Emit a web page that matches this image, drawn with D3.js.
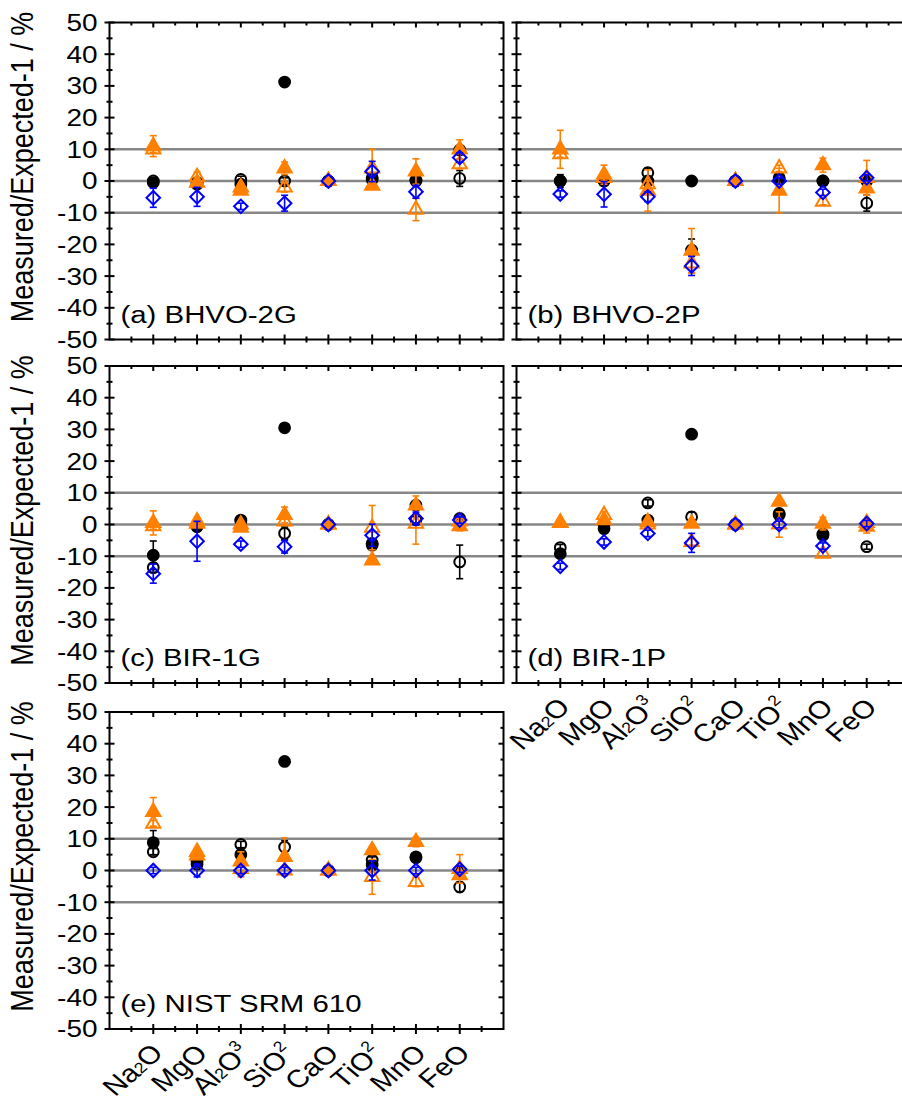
<!DOCTYPE html>
<html>
<head>
<meta charset="utf-8">
<script src="https://cdn.jsdelivr.net/npm/d3@7"></script>
<style>
  html, body { margin: 0; padding: 0; background: #fff; }
  svg { display: block; font-family: Arial, "Liberation Sans", sans-serif; }
</style>
</head>
<body>
<div id="chart"></div>
<script>
// Oxide categories along the x axis
const categories = ["Na2O", "MgO", "Al2O3", "SiO2", "CaO", "TiO2", "MnO", "FeO"];
const yTicks = [50, 40, 30, 20, 10, 0, -10, -20, -30, -40, -50];
const refLines = [10, 0, -10];
const panelNames = ["(a) BHVO-2G", "(b) BHVO-2P", "(c) BIR-1G", "(d) BIR-1P", "(e) NIST SRM 610"];

// Series order in each table: filled circle, open circle, filled triangle, open triangle, open diamond
const bhvo2gValues = [
  [-0.5, -1, -1, 31.2, 0, 0.5, 0.3, 9.8],
  [0, -0.5, 0.5, 0, 0, 1, 0, 0.8],
  [11, -0.5, -3, 4, 0, -1.5, 3, 10],
  [10, 1.3, -2, -2, 0, 4, -9, 5.3],
  [-5.3, -5, -8, -7, 0, 3, -3.4, 7.4]
];
const bhvo2gErrors = [
  [1, 1, 1, 0.5, 0, 1, 1, 1],
  [1, 1, 1, 1, 0, 1, 1, 2.5],
  [3.3, 1, 1, 2, 0.5, 1, 4, 3],
  [1, 1.5, 1, 1.5, 0, 6, 3.5, 1.5],
  [3, 3, 1, 2.5, 0, 3.2, 2, 1.5]
];

const bhvo2pValues = [
  [0, 0, 0, 0, 0, 0.5, 0, 0],
  [0, 0, 2.6, -21.8, 0, 1, 0, -7],
  [10, 2, -3, -22, 0, -3, 5, -2.3],
  [8.5, 1, -1, -26, 0, 4, -6.5, 1],
  [-4.1, -4.2, -5, -26.8, 0, 0, -3.6, 1]
];
const bhvo2pErrors = [
  [2, 1, 1, 0.5, 0, 1, 1, 1],
  [1, 1, 1.5, 3.5, 0, 1, 1, 2.5],
  [6, 3, 6.5, 7, 0.5, 7, 2.2, 1],
  [1, 1, 1, 3, 0, 1, 1, 5.5],
  [1, 4, 1.5, 3, 0, 1, 1, 1]
];

const bir1gValues = [
  [-9.7, -0.7, 1.4, 30.5, 0, -6.5, 6.1, 1.9],
  [-13.6, -0.5, 1, -2.8, 0, -6, 1.5, -11.8],
  [0.5, 0.3, -1, 3, 0, -11.3, 6, -0.5],
  [-0.5, 1, 0, 1, 0, -1, 0.3, 1],
  [-15.5, -5.3, -6.2, -7, 0, -3.4, 1.9, 1.4]
];
const bir1gErrors = [
  [4.5, 1, 1, 0.5, 0, 1, 1, 1],
  [1.5, 1, 1, 2, 0, 1, 1, 5.3],
  [3.8, 1, 1, 2.5, 0, 1, 3, 1.5],
  [1, 1, 1, 1, 0, 7, 6.5, 1],
  [3, 6.3, 1, 2, 0, 3.5, 2, 1]
];

const bir1pValues = [
  [-9.2, -1.3, 1.4, 28.5, 0, 3.5, -3.4, 0],
  [-7.3, 0, 6.8, 2.4, 0, 3, -3, -7],
  [0.6, 1.4, 0.8, 0.3, 0, 7.2, 0.3, -0.7],
  [0.5, 3, 0, -5.5, 0, 0, -9.2, 0.5],
  [-13.2, -5.5, -2.8, -5.8, 0, 0, -6.8, 0.3]
];
const bir1pErrors = [
  [1, 1, 1, 0.5, 0, 1, 1, 1],
  [1, 1, 1, 1.5, 0, 1, 1, 0.8],
  [1, 1, 1, 1, 0, 1, 2, 2],
  [1, 1, 1, 1, 0, 4, 1, 1],
  [1, 1, 1, 3, 0, 1, 1, 1]
];

const nist610Values = [
  [8.8, 2.9, 5, 34.4, 0, 1.7, 4.3, 0],
  [5.9, 2, 8.2, 7.4, 0, 3.3, 4, -5.2],
  [18.5, 4.8, 2.9, 4.3, 0, 6.4, 9, -1.5],
  [14.8, 5.9, 0.5, 0, 0, -2, -3.6, 0.5],
  [0, 0, 0, 0, 0, 0, 0, 0.4]
];
const nist610Errors = [
  [3.8, 1, 2, 0.5, 0, 1, 1, 1],
  [1, 1, 1, 2, 0, 1, 1, 1.5],
  [4.5, 1, 3, 6, 0, 1, 1.5, 1],
  [1, 1, 2.5, 1, 0, 5.5, 1.5, 4.5],
  [1, 2, 1, 1, 0, 3, 1, 1]
];

// Marker styles for the five series
const ORANGE = "#ff8000", BLUE = "#0000ff";
const seriesStyles = [
  { shape: "circle", fill: "#000", stroke: "#000", err: "#000" },
  { shape: "circle", fill: "none", stroke: "#000", err: "#000" },
  { shape: "triangle", fill: ORANGE, stroke: ORANGE, err: ORANGE },
  { shape: "triangle", fill: "none", stroke: ORANGE, err: ORANGE },
  { shape: "diamond", fill: "none", stroke: BLUE, err: BLUE }
];

const W = 902, H = 1100;
const PW = 394, PH = 317;
const colX = [109.5, 516.5];
const rowY = [22.5, 366, 712];
const SX = 1.19; // horizontal stretch applied to all lettering

const panels = [
  { name: panelNames[0], vals: bhvo2gValues, errs: bhvo2gErrors, x0: colX[0], y0: rowY[0], yLab: true, xLab: false },
  { name: panelNames[1], vals: bhvo2pValues, errs: bhvo2pErrors, x0: colX[1], y0: rowY[0], yLab: false, xLab: false },
  { name: panelNames[2], vals: bir1gValues, errs: bir1gErrors, x0: colX[0], y0: rowY[1], yLab: true, xLab: false },
  { name: panelNames[3], vals: bir1pValues, errs: bir1pErrors, x0: colX[1], y0: rowY[1], yLab: false, xLab: true },
  { name: panelNames[4], vals: nist610Values, errs: nist610Errors, x0: colX[0], y0: rowY[2], yLab: true, xLab: true }
];

const svg = d3.select("#chart").append("svg")
  .attr("width", W).attr("height", H)
  .attr("viewBox", `0 0 ${W} ${H}`);
svg.append("rect").attr("width", W).attr("height", H).attr("fill", "#fff");

const symCircle = d3.symbol().type(d3.symbolCircle).size(Math.PI * 5.4 * 5.4);
const symTriangle = d3.symbol().type(d3.symbolTriangle).size(88);
const symSquare = d3.symbol().type(d3.symbolSquare).size(92);

function markerPath(shape) {
  if (shape === "circle") return symCircle();
  if (shape === "triangle") return symTriangle();
  return symSquare();
}

// Formula label: inner digits set small near the baseline, trailing digits raised
function writeFormula(textSel, label) {
  const chars = label.split("");
  chars.forEach((ch, i) => {
    if (!/[0-9]/.test(ch)) {
      textSel.append("tspan").text(ch);
      return;
    }
    const last = i === chars.length - 1;
    textSel.append("tspan")
      .attr("font-size", "0.6em")
      .attr("dy", last ? "-0.75em" : "-0.05em")
      .text(ch);
    if (!last) textSel.append("tspan").attr("dy", "0.03em").text("");
  });
}

panels.forEach(p => {
  const x = d3.scalePoint().domain(categories).range([p.x0, p.x0 + PW]).padding(1);
  const y = d3.scaleLinear().domain([-50, 50]).range([p.y0 + PH, p.y0]);
  const step = x.step();
  const g = svg.append("g");

  // Reference lines at +10, 0, -10 %
  g.selectAll("line.ref").data(refLines).join("line")
    .attr("x1", p.x0).attr("x2", p.x0 + PW)
    .attr("y1", d => y(d)).attr("y2", d => y(d))
    .attr("stroke", "#878787").attr("stroke-width", 2.6);

  // Frame
  g.append("rect")
    .attr("x", p.x0).attr("y", p.y0).attr("width", PW).attr("height", PH)
    .attr("fill", "none").attr("stroke", "#000").attr("stroke-width", 2);

  // Left axis (ticks on both sides) and right axis (inward ticks)
  const yMajor = yTicks;
  const yMinor = d3.range(-45, 50, 10);
  const left = g.append("g");
  left.selectAll("line.maj").data(yMajor).join("line")
    .attr("x1", p.x0 - 5).attr("x2", p.x0 + 5)
    .attr("y1", d => y(d)).attr("y2", d => y(d))
    .attr("stroke", "#000").attr("stroke-width", 2);
  left.selectAll("line.min").data(yMinor).join("line")
    .attr("x1", p.x0 - 3).attr("x2", p.x0 + 3)
    .attr("y1", d => y(d)).attr("y2", d => y(d))
    .attr("stroke", "#000").attr("stroke-width", 2);
  const right = g.append("g");
  right.selectAll("line.maj").data(yMajor).join("line")
    .attr("x1", p.x0 + PW - 5).attr("x2", p.x0 + PW)
    .attr("y1", d => y(d)).attr("y2", d => y(d))
    .attr("stroke", "#000").attr("stroke-width", 2);
  right.selectAll("line.min").data(yMinor).join("line")
    .attr("x1", p.x0 + PW - 3).attr("x2", p.x0 + PW)
    .attr("y1", d => y(d)).attr("y2", d => y(d))
    .attr("stroke", "#000").attr("stroke-width", 2);

  if (p.yLab) {
    left.selectAll("text").data(yMajor).join("text")
      .attr("transform", d => `translate(${p.x0 - 12}, ${y(d)}) scale(${SX}, 1)`)
      .attr("dy", "0.36em")
      .attr("text-anchor", "end")
      .attr("font-size", 23.5)
      .text(d => d);
    g.append("text")
      .attr("transform", `translate(33, ${p.y0 + PH / 2 - 14}) scale(${SX}, 1) rotate(-90)`)
      .attr("text-anchor", "middle")
      .attr("font-size", 27)
      .text("Measured/Expected-1 / %");
  }

  // Top (inward) and bottom (both sides) x ticks
  const xMajor = categories.map(c => x(c));
  const xMinor = d3.range(0, categories.length + 1).map(i => p.x0 + step / 2 + i * step);
  const topG = g.append("g");
  topG.selectAll("line.maj").data(xMajor).join("line")
    .attr("x1", d => d).attr("x2", d => d)
    .attr("y1", p.y0).attr("y2", p.y0 + 5)
    .attr("stroke", "#000").attr("stroke-width", 2);
  topG.selectAll("line.min").data(xMinor).join("line")
    .attr("x1", d => d).attr("x2", d => d)
    .attr("y1", p.y0).attr("y2", p.y0 + 3)
    .attr("stroke", "#000").attr("stroke-width", 2);
  const botG = g.append("g");
  botG.selectAll("line.maj").data(xMajor).join("line")
    .attr("x1", d => d).attr("x2", d => d)
    .attr("y1", p.y0 + PH - 5).attr("y2", p.y0 + PH + 5)
    .attr("stroke", "#000").attr("stroke-width", 2);
  botG.selectAll("line.min").data(xMinor).join("line")
    .attr("x1", d => d).attr("x2", d => d)
    .attr("y1", p.y0 + PH - 3).attr("y2", p.y0 + PH + 3)
    .attr("stroke", "#000").attr("stroke-width", 2);

  if (p.xLab) {
    categories.forEach(c => {
      const t = botG.append("text")
        .attr("transform", `translate(${x(c) + 12}, ${p.y0 + PH + 26}) scale(${SX}, 1) rotate(-45)`)
        .attr("text-anchor", "end")
        .attr("font-size", 25);
      writeFormula(t, c);
    });
  }

  // Data: error bars then markers, series by series
  p.vals.forEach((vals, si) => {
    const st = seriesStyles[si];
    const pts = categories.map((c, i) => ({ c, v: vals[i], e: p.errs[si][i] }));
    const sg = g.append("g");
    const eb = sg.append("g").attr("stroke", st.err).attr("stroke-width", 1.6);
    pts.filter(d => d.e > 0).forEach(d => {
      const cx = x(d.c);
      eb.append("line").attr("x1", cx).attr("x2", cx)
        .attr("y1", y(d.v + d.e)).attr("y2", y(d.v - d.e));
      eb.append("line").attr("x1", cx - 3.5).attr("x2", cx + 3.5)
        .attr("y1", y(d.v + d.e)).attr("y2", y(d.v + d.e));
      eb.append("line").attr("x1", cx - 3.5).attr("x2", cx + 3.5)
        .attr("y1", y(d.v - d.e)).attr("y2", y(d.v - d.e));
    });
    sg.selectAll("path").data(pts).join("path")
      .attr("d", markerPath(st.shape))
      .attr("transform", d => `translate(${x(d.c)}, ${y(d.v)})` + (st.shape === "diamond" ? " rotate(45)" : ""))
      .attr("fill", st.fill)
      .attr("stroke", st.stroke)
      .attr("stroke-width", 2);
  });

  // Panel label
  g.append("text")
    .attr("transform", `translate(${p.x0 + 11}, ${p.y0 + PH - 17}) scale(${SX}, 1)`)
    .attr("font-size", 24.7)
    .text(p.name);
});
</script>
</body>
</html>
